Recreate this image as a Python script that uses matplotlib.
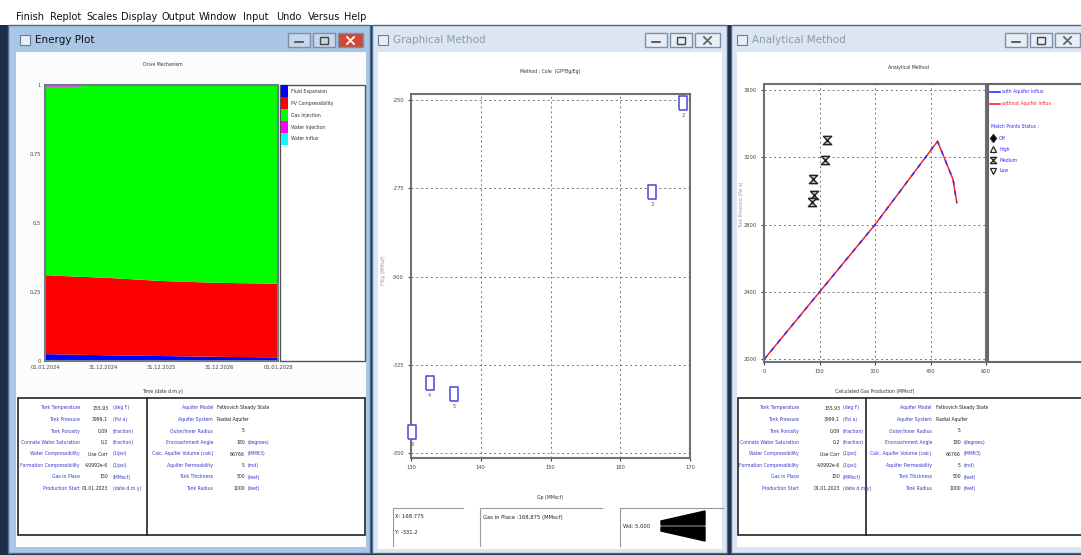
import numpy as np
import matplotlib
matplotlib.use("Agg")
import matplotlib.pyplot as plt
from matplotlib.patches import Rectangle, Polygon
from matplotlib.path import Path

plt.rcParams["axes.unicode_minus"] = False

W, H = 1081, 555
SMALL = ['Liberation Sans Narrow', 'DejaVu Sans']
FS = 3.7  # tiny bitmap-like text

# ---- Energy plot (drive mechanism) ----
energy_dates = ["01.01.2024", "31.12.2024", "31.12.2025", "31.12.2026", "01.01.2028"]
energy_t = [0, 0.5, 1, 2, 3, 4]
fluid_expansion = [0.025, 0.023, 0.021, 0.018, 0.015, 0.013]
pv_compress = [0.286, 0.283, 0.281, 0.272, 0.268, 0.267]
gas_injection = [0.683, 0.688, 0.698, 0.710, 0.717, 0.720]
water_injection = [0.006, 0.006, 0.0, 0.0, 0.0, 0.0]
water_influx = [0.0, 0.0, 0.0, 0.0, 0.0, 0.0]
drive_names = ["Fluid Expansion", "PV Compressibility", "Gas Injection",
               "Water Injection", "Water Influx"]
drive_colors = ["#0000ff", "#ff0000", "#00ff00", "#ff00ff", "#00ffff"]
energy_yticks = [0, 0.25, 0.5, 0.75, 1]
energy_ylabels = ["0", "0,25", "0,5", "0,75", "1"]

# ---- Graphical method (Cole) ----
cole_gp = [169.0, 164.6, 132.7, 136.2, 130.2]
cole_y = [-250.8, -276.0, -330.1, -333.4, -344.0]
cole_ids = ["2", "3", "4", "5", "6"]
cole_xticks = [130, 140, 150, 160, 170]
cole_yticks = [-350, -325, -300, -275, -250]

# ---- Analytical method ----
calc_gp = [0, 150, 300, 469, 511, 521]
p_with_aq = [2000, 2400, 2800, 3295, 3068, 2930]
p_without_aq = [2000, 2400, 2800, 3295, 3068, 2930]
match_gp = [169.0, 164.6, 132.7, 136.2, 130.2]
match_p = [3304, 3181, 3072, 2977, 2932]
ana_xticks = [0, 150, 300, 450, 600]
ana_yticks = [2000, 2400, 2800, 3200, 3600]

# ---- input tables ----
tank_rows = [
    ("Tank Temperature", "155,93", "(deg F)"),
    ("Tank Pressure", "3999,1", "(Psi a)"),
    ("Tank Porosity", "0,09", "(fraction)"),
    ("Connate Water Saturation", "0,2", "(fraction)"),
    ("Water Compressibility", "Use Corr", "(1/psi)"),
    ("Formation Compressibility", "4,0992e-6", "(1/psi)"),
    ("Gas in Place", "150", "(MMscf)"),
    ("Production Start", "01.01.2023", "(date d.m.y)"),
]
aquifer_rows = [
    ("Aquifer Model", "Fetkovich Steady State", ""),
    ("Aquifer System", "Radial Aquifer", ""),
    ("Outer/Inner Radius", "5", ""),
    ("Encroachment Angle", "180", "(degrees)"),
    ("Calc. Aquifer Volume (calc)", "66766", "(MMft3)"),
    ("Aquifer Permeability", "5", "(md)"),
    ("Tank Thickness", "500", "(feet)"),
    ("Tank Radius", "1000", "(feet)"),
]
menu_items = ["Finish", "Replot", "Scales", "Display", "Output", "Window",
              "Input", "Undo", "Versus", "Help"]
menu_x = [16, 50, 86, 121, 161, 199, 243, 276, 308, 344]


def rect(x0, y0, x1, y1):
    return [x0 / W, 1 - y1 / H, (x1 - x0) / W, (y1 - y0) / H]


fig = plt.figure(figsize=(10.81, 5.55), dpi=100)
bg = fig.add_axes([0, 0, 1, 1])
bg.set_xlim(0, W)
bg.set_ylim(H, 0)
bg.axis("off")


def box(x0, y0, x1, y1, fc, ec="none", lw=1.0, z=1):
    bg.add_patch(Rectangle((x0, y0), x1 - x0, y1 - y0, facecolor=fc,
                           edgecolor=ec, linewidth=lw, zorder=z))


def small(x, y, s, **kw):
    kw.setdefault("fontsize", FS)
    kw.setdefault("va", "center")
    kw.setdefault("color", "#333333")
    bg.text(x, y, s, family=SMALL, fontstretch="condensed", **kw)


# desktop + window frames
box(0, 0, W, H, "#1e2d48", z=0)
box(0, 0, W, 25, "#ffffff")
box(8, 25, 370, 553, "#a9c6e6", ec="#4f6a8f")
box(16, 52, 366, 547, "#fcfcfc")
box(372, 25, 727, 553, "#dbe6f2", ec="#4f6a8f")
box(378, 52, 722, 549, "#ffffff")
box(731, 25, 1085, 553, "#dbe6f2", ec="#4f6a8f")
box(737, 52, 1085, 547, "#ffffff")

for i, m in enumerate(menu_items):
    bg.text(menu_x[i], 17, m, fontsize=7, color="#111111", va="center")

# title bars
titles = [("Energy Plot", 20, "#111111"), ("Graphical Method", 378, "#8a99ad"),
          ("Analytical Method", 737, "#8a99ad")]
for t, x, c in titles:
    box(x, 35, x + 10, 45, "#e9eef5", ec="#6a7d96", lw=0.8, z=2)
    bg.text(x + 15, 40, t, fontsize=7.5, color=c, va="center")

btn_sets = [(288, True), (645, False), (1005, False)]
for x, active in btn_sets:
    box(x, 33, x + 22, 47, "#c8d8ec" if active else "#e8eef6", ec="#7d8fa8", z=2)
    bg.plot([x + 7, x + 15], [42, 42], color="#444444", lw=1.2, zorder=3)
    box(x + 25, 33, x + 47, 47, "#c8d8ec" if active else "#e8eef6", ec="#7d8fa8", z=2)
    box(x + 32, 37, x + 40, 44, "none", ec="#444444", z=3)
    box(x + 50, 33, x + 75, 47, "#cc4a3a" if active else "#e8eef6", ec="#7d8fa8", z=2)
    xc = "#ffffff" if active else "#666666"
    bg.plot([x + 59, x + 66], [37, 44], color=xc, lw=1.3, zorder=3)
    bg.plot([x + 59, x + 66], [44, 37], color=xc, lw=1.3, zorder=3)

# ================= Energy plot =================
small(163, 65, "Drive Mechanism", ha="center")
ax1 = fig.add_axes(rect(45, 85, 278, 361))
ax1.stackplot(energy_t, fluid_expansion, pv_compress, gas_injection,
              water_injection, water_influx, colors=drive_colors, linewidth=0)
ax1.set_xlim(0, 4)
ax1.set_ylim(0, 1)
ax1.set_xticks(range(len(energy_dates)))
ax1.set_xticklabels(energy_dates)
ax1.set_yticks(energy_yticks)
ax1.set_yticklabels(energy_ylabels)
ax1.tick_params(labelsize=FS, colors="#444444", length=0, pad=3)
for s in ax1.spines.values():
    s.set_color("#6c7c8c")
    s.set_linewidth(1.5)
small(163, 392, "Time (date d.m.y)", ha="center")

# energy legend
box(280, 85, 365, 361, "#ffffff", ec="#555555")
for i, name in enumerate(drive_names):
    y = 91 + 12 * i
    box(281, y - 6, 288, y + 6, drive_colors[i], z=2)
    small(291, y, name)

# ================= Graphical method =================
small(550, 72, "Method : Cole  (GP*Bg/Eg)", ha="center")
ax2 = fig.add_axes(rect(411, 94, 690, 458))
tall_box = Path([(-0.55, -1), (0.55, -1), (0.55, 1), (-0.55, 1), (-0.55, -1)])
ax2.plot(cole_gp, cole_y, linestyle="none", marker=tall_box, markersize=10,
         mfc="white", mec="#5a50e0", mew=1.2, clip_on=False, zorder=4)
for gx, gy, lab in zip(cole_gp, cole_y, cole_ids):
    ax2.annotate(lab, (gx, gy), xytext=(0, -9), textcoords="offset points",
                 ha="center", va="center", fontsize=FS, color="#555555")
ax2.set_xlim(130, 170)
ax2.set_ylim(-351.4, -248.3)
ax2.set_xticks(cole_xticks)
ax2.set_yticks(cole_yticks)
ax2.grid(True, linestyle=(0, (2, 3)), color="#777777", linewidth=0.7)
ax2.tick_params(labelsize=FS, colors="#444444", length=2, pad=3)
for s in ax2.spines.values():
    s.set_color("#707070")
    s.set_linewidth(1.5)
small(383, 270, "F/Eg (MMscf)", rotation=90, ha="center", color="#999999")
small(550, 497, "Gp (MMscf)", ha="center")

# info boxes below
for x0, x1 in [(393, 463), (480, 602), (620, 723)]:
    bg.plot([x0, x0, x1], [546, 508, 508], color="#999999", lw=0.8, zorder=2)
small(395, 517, "X: 168.775", color="#222222", fontsize=4.2)
small(395, 533, "Y: -331.2", color="#222222", fontsize=4.2)
small(483, 517, "Gas in Place :168,875 (MMscf)", color="#222222", fontsize=4.2)
small(623, 526, "Wd: 5.000", color="#222222", fontsize=4.2)
bg.add_patch(Polygon([(661, 521), (705, 511), (705, 525), (661, 525)],
                     closed=True, color="black", zorder=3))
bg.add_patch(Polygon([(661, 527), (705, 527), (705, 541), (661, 531)],
                     closed=True, color="black", zorder=3))

# ================= Analytical method =================
small(908, 67, "Analytical Method", ha="center")
ax3 = fig.add_axes(rect(764, 84, 986, 362))
ax3.plot(calc_gp, p_without_aq, color="#ff2020", lw=1.1)
ax3.plot(calc_gp, p_with_aq, color="#3030ff", lw=1.1, dashes=(3, 4))
hourglass = Path([(-1, 1), (1, 1), (-1, -1), (1, -1), (-1, 1)])
ax3.plot(match_gp, match_p, linestyle="none", marker=hourglass, markersize=6,
         mfc="#bbbbbb", mec="#222222", mew=1.0)
ax3.set_xlim(0, 600)
ax3.set_ylim(1985, 3635)
ax3.set_xticks(ana_xticks)
ax3.set_yticks(ana_yticks)
ax3.grid(True, linestyle=(0, (2, 3)), color="#777777", linewidth=0.7)
ax3.tick_params(labelsize=FS, colors="#444444", length=2, pad=3)
for s in ax3.spines.values():
    s.set_color("#707070")
    s.set_linewidth(1.5)
small(742, 205, "Tank Pressure (Psi a)", rotation=90, ha="center", color="#999999")
small(875, 392, "Calculated Gas Production (MMscf)", ha="center")

# analytical legend
box(988, 84, 1086, 362, "#ffffff", ec="#666666", lw=1.5)
bg.plot([990, 1000], [92, 92], color="#3030ff", lw=1.2, zorder=3)
small(1002, 92, "with Aquifer Influx", color="#3030ff")
bg.plot([990, 1000], [104, 104], color="#ff2020", lw=1.2, zorder=3)
small(1002, 104, "without Aquifer Influx", color="#ff2020")
small(991, 126, "Match Points Status :", color="#3030ff")
status_marks = ["d", "^", hourglass, "v"]
status_fill = ["black", "none", "#bbbbbb", "none"]
status_names = ["Off", "High", "Medium", "Low"]
for i, (mk, nm) in enumerate(zip(status_marks, status_names)):
    y = 138 + 11 * i
    bg.plot([993], [y], marker=mk, markersize=4.5, mfc=status_fill[i],
            mec="#222222", mew=0.9, zorder=3)
    small(999, y, nm, color="#3030ff")

# ================= input tables =================
row_y = [408, 419.5, 431, 442.5, 454, 465.5, 477, 488.5]
LBL = "#3a3ac8"


def draw_table(x0, x1, xdiv, lab_end, val_end, unit_x, rlab_end, rval_x, rnum_end, runit_x):
    box(x0, 398, x1, 535, "#ffffff", ec="#222222", lw=1.2)
    bg.plot([xdiv, xdiv], [398, 535], color="#222222", lw=1.2, zorder=2)
    for y, (lab, val, unit) in zip(row_y, tank_rows):
        small(lab_end, y, lab, ha="right", color=LBL)
        small(val_end, y, val, ha="right", color="#222222")
        small(unit_x, y, unit, color=LBL)
    for y, (lab, val, unit) in zip(row_y, aquifer_rows):
        small(rlab_end, y, lab, ha="right", color=LBL)
        if unit or val.isdigit():
            small(rnum_end, y, val, ha="right", color="#222222")
            if unit:
                small(runit_x, y, unit, color=LBL)
        else:
            small(rval_x, y, val, color="#222222")


draw_table(18, 365, 147, 80, 108, 113, 213, 217, 245, 248)
draw_table(738, 1086, 866, 799, 840, 843, 932, 936, 961, 964)

fig.savefig("out.png", dpi=100)
